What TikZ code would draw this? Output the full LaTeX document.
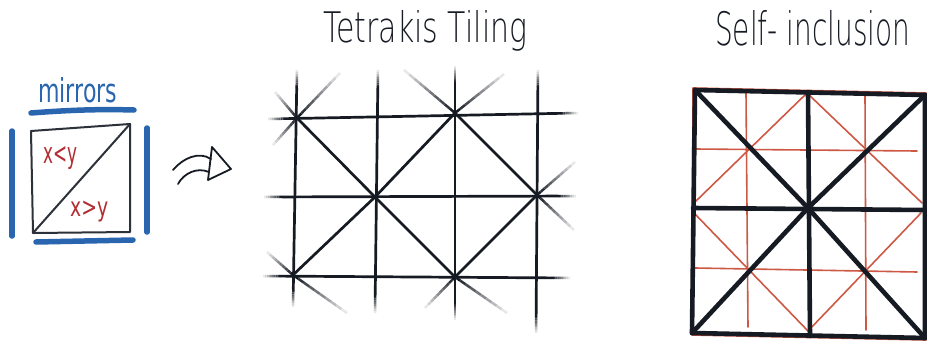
\documentclass[tikz,border=0pt]{standalone}
\usepackage{fontspec}
\usepackage{graphicx}
\usetikzlibrary{calc}
\newfontfamily\handfont{DejaVuSans-ExtraLight}[Extension=.ttf]
\newfontfamily\medfont{DejaVu Sans}
\definecolor{ink}{RGB}{22,26,34}
\definecolor{boxink}{RGB}{45,50,58}
\definecolor{mblue}{RGB}{42,102,176}
\definecolor{mred}{RGB}{178,45,50}
\definecolor{lred}{RGB}{205,88,68}
\tikzset{
  boxline/.style={draw=boxink, line width=2pt, line join=round, line cap=round},
  mirrorbar/.style={draw=mblue, line width=5.5pt, line cap=round},
  tile/.style={draw=ink, line width=2.7pt, line cap=round},
  bold/.style={draw=ink, line width=4.6pt, line cap=round, line join=round},
  thinred/.style={draw=lred, line width=1.6pt, line cap=round, line join=round},
  arrowline/.style={draw=ink, line width=1.8pt, line cap=round, line join=round},
  txt/.style={inner sep=0pt, anchor=base west}
}
% fade from #1 (full ink) to #2 (white)
\newcommand{\fadeseg}[2]{%
  \foreach \k in {0,...,9}{%
    \pgfmathsetmacro\fa{\k/10}%
    \pgfmathsetmacro\fb{(\k+1)/10}%
    \pgfmathsetmacro\pc{100-\k*10}%
    \draw[line width=2.5pt, line cap=butt, draw=ink!\pc!white] ($(#1)!\fa!(#2)$) -- ($(#1)!\fb!(#2)$);
  }}
% line from #1 to #2, solid in the middle, fading over 18pt at both ends
\newcommand{\fadeboth}[2]{%
  \coordinate (fi1) at ($(#1)!18pt!(#2)$);
  \coordinate (fi2) at ($(#2)!18pt!(#1)$);
  \draw[tile, line cap=butt] (fi1) -- (fi2);
  \fadeseg{fi1}{#1}
  \fadeseg{fi2}{#2}
}
\begin{document}
\begin{tikzpicture}[x=1pt,y=-1pt]
\path[use as bounding box, fill=white] (0,0) rectangle (927,351);

% ---------- left panel ----------
\coordinate (sqTL) at (31,131);
\coordinate (sqTR) at (130,124);
\coordinate (sqBR) at (130,232);
\coordinate (sqBL) at (33,233);
\draw[boxline] (sqTL) -- (sqTR) -- (sqBR) -- (sqBL) -- cycle;
\draw[boxline] (sqBL) -- (sqTR);

\coordinate (mt1) at (31,113); \coordinate (mt2) at (134,110);
\coordinate (mb1) at (36,242); \coordinate (mb2) at (133,240);
\coordinate (ml1) at (12,131); \coordinate (ml2) at (12,236);
\coordinate (mr1) at (147,128); \coordinate (mr2) at (147,232);
\draw[mirrorbar] (mt1) .. controls (70,110) and (100,109) .. (mt2);
\draw[mirrorbar] (mb1) -- (mb2);
\draw[mirrorbar] (ml1) -- (ml2);
\draw[mirrorbar] (mr1) -- (mr2);

\node[txt, text=mblue] (mirrors) at (38,102) {\resizebox{79pt}{25pt}{\medfont mirrors}};
\node[txt, text=mred] (xlty) at (43,163) {\resizebox*{34pt}{23pt}{\medfont x<y}};
\node[txt, text=mred] (xgty) at (70,216) {\resizebox*{38pt}{21pt}{\medfont x>y}};

% ---------- arrow ----------
\coordinate (a1s) at (173,170); \coordinate (a1e) at (211,159);
\coordinate (a2s) at (178,184); \coordinate (a2e) at (209,172);
\coordinate (h1) at (212,147); \coordinate (h2) at (231,169); \coordinate (h3) at (208,180);
\draw[arrowline] (a1s) .. controls (183,158) and (199,151) .. (a1e);
\draw[arrowline] (a2s) .. controls (184,173) and (197,167) .. (a2e);
\draw[arrowline] (h1) -- (h2) -- (h3) -- cycle;

% ---------- Tetrakis tiling ----------
\node[txt, text=ink] (title1) at (323,42) {\resizebox{204pt}{32pt}{\handfont Tetrakis Tiling}};

\coordinate (v1t) at (297,70);  \coordinate (v1b) at (293,307);
\coordinate (v2t) at (378,70);  \coordinate (v2b) at (375,313);
\coordinate (v3t) at (455,66);  \coordinate (v3b) at (455,320);
\coordinate (v4t) at (538,70);  \coordinate (v4b) at (536,333);
\coordinate (h1l) at (268,119); \coordinate (h1r) at (578,113);
\coordinate (h2l) at (264,197); \coordinate (h2r) at (576,196);
\coordinate (h3l) at (263,276); \coordinate (h3r) at (570,278);
\fadeboth{v1t}{v1b}
\fadeboth{v2t}{v2b}
\fadeboth{v3t}{v3b}
\fadeboth{v4t}{v4b}
\fadeboth{h1l}{h1r}
\fadeboth{h2l}{h2r}
\fadeboth{h3l}{h3r}

\coordinate (A) at (297,118);
\coordinate (B) at (455,113);
\coordinate (C) at (375,197);
\coordinate (D) at (537,195);
\coordinate (E) at (293,275);
\coordinate (F) at (455,277);
\draw[tile] (A) -- (C) -- (F) -- (D) -- (B) -- (C) -- (E);

\coordinate (sA1) at (275,92);  \coordinate (sA2) at (273,145); \coordinate (sA3) at (340,73);
\coordinate (sB1) at (404,70);  \coordinate (sB2) at (504,74);
\coordinate (sD1) at (575,162); \coordinate (sD2) at (574,230);
\coordinate (sE1) at (267,252); \coordinate (sE2) at (347,313);
\coordinate (sF1) at (425,308); \coordinate (sF2) at (507,313);
\fadeseg{A}{sA1} \fadeseg{A}{sA2} \fadeseg{A}{sA3}
\fadeseg{B}{sB1} \fadeseg{B}{sB2}
\fadeseg{D}{sD1} \fadeseg{D}{sD2}
\fadeseg{E}{sE1} \fadeseg{E}{sE2}
\fadeseg{F}{sF1} \fadeseg{F}{sF2}

% ---------- Self-inclusion ----------
\node[txt, text=ink] (title2) at (715,45) {\resizebox{195pt}{35pt}{\handfont Self- inclusion}};

\coordinate (sTL) at (695,90);
\coordinate (sTR) at (925,95);
\coordinate (sBR) at (925,338);
\coordinate (sBL) at (692,333);
\coordinate (sTM) at (808,92);
\coordinate (sBM) at (810,336);
\coordinate (sLM) at (693,208);
\coordinate (sRM) at (925,210);
\coordinate (sC) at (808,208);

% red layer
\coordinate (rTL) at (693,88);  \coordinate (rTR) at (926,93);
\coordinate (rBR) at (926,340); \coordinate (rBL) at (692,335);
\draw[thinred] (rTL) -- (rTR) -- (rBR) -- (rBL) -- cycle;
\coordinate (rv1t) at (746,93);  \coordinate (rv1b) at (748,327);
\coordinate (rv2t) at (865,94);  \coordinate (rv2b) at (866,330);
\coordinate (rh1l) at (695,149); \coordinate (rh1r) at (917,151);
\coordinate (rh2l) at (695,268); \coordinate (rh2r) at (917,272);
\draw[thinred] (rv1t) -- (rv1b);
\draw[thinred] (rv2t) -- (rv2b);
\draw[thinred] (rh1l) -- (rh1r);
\draw[thinred] (rh2l) -- (rh2r);
\coordinate (rL1) at (694,203); \coordinate (rL2) at (694,213);
\coordinate (rR1) at (922,203); \coordinate (rR2) at (921,213);
\coordinate (rT) at (807,93);   \coordinate (rB) at (808,331);
\draw[thinred] (rL1) -- (rT) -- (rR1);
\draw[thinred] (rL2) -- (rB) -- (rR2);

% black layer
\draw[bold] (sTL) -- (sTR) -- (sBR) -- (sBL) -- cycle;
\draw[bold] (sTM) -- (sBM);
\draw[bold] (sLM) -- (sRM);
\draw[bold] (sTL) -- (sC) -- (sBR);
\draw[bold] (sBL) -- (sC) -- (sTR);
\end{tikzpicture}
\end{document}
